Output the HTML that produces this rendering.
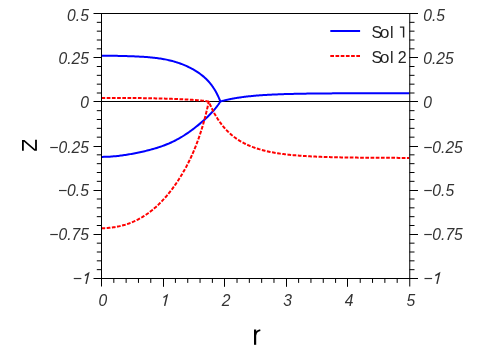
<!DOCTYPE html>
<html><head><meta charset="utf-8"><title>chart</title>
<style>html,body{margin:0;padding:0;background:#fff;}body{width:498px;height:362px;position:relative;overflow:hidden;font-family:"Liberation Sans",sans-serif;}</style></head>
<body>
<svg width="498" height="362" viewBox="0 0 498 362" style="position:absolute;left:0;top:0;will-change:transform">
<rect width="498" height="362" fill="#fff"/>
<path d="M93.5,101.5 H418.0" stroke="#000" stroke-width="1" fill="none"/>
<clipPath id="c"><rect x="101.5" y="13.5" width="308.0" height="265.0"/></clipPath>
<g clip-path="url(#c)" fill="none" stroke-linejoin="round">
<path d="M101.50,55.70 L102.70,55.70 L103.90,55.70 L105.10,55.70 L106.30,55.71 L107.51,55.72 L108.71,55.73 L109.91,55.74 L111.11,55.76 L112.31,55.78 L113.51,55.79 L114.71,55.82 L115.91,55.84 L117.11,55.86 L118.31,55.89 L119.52,55.91 L120.72,55.94 L121.92,55.97 L123.12,56.00 L124.32,56.04 L125.52,56.07 L126.72,56.11 L127.92,56.15 L129.12,56.19 L130.32,56.23 L131.53,56.27 L132.73,56.32 L133.93,56.37 L135.13,56.42 L136.33,56.47 L137.53,56.53 L138.73,56.59 L139.93,56.65 L141.13,56.72 L142.33,56.79 L143.54,56.86 L144.74,56.94 L145.94,57.02 L147.14,57.11 L148.34,57.20 L149.54,57.30 L150.74,57.41 L151.94,57.52 L153.14,57.65 L154.34,57.78 L155.55,57.91 L156.75,58.06 L157.95,58.22 L159.15,58.39 L160.35,58.56 L161.55,58.75 L162.75,58.95 L163.95,59.17 L165.15,59.39 L166.35,59.63 L167.56,59.89 L168.76,60.16 L169.96,60.44 L171.16,60.74 L172.36,61.05 L173.56,61.38 L174.76,61.73 L175.96,62.09 L177.16,62.47 L178.36,62.87 L179.57,63.29 L180.77,63.73 L181.97,64.18 L183.17,64.65 L184.37,65.15 L185.57,65.66 L186.77,66.20 L187.97,66.75 L189.17,67.33 L190.37,67.94 L191.58,68.57 L192.78,69.22 L193.98,69.90 L195.18,70.61 L196.38,71.35 L197.58,72.13 L198.78,72.94 L199.98,73.79 L201.18,74.68 L202.38,75.63 L203.59,76.62 L204.79,77.68 L205.99,78.80 L207.19,80.00 L208.39,81.28 L209.59,82.65 L210.79,84.12 L211.99,85.71 L213.19,87.43 L214.39,89.29 L215.60,91.32 L216.80,93.53 L218.00,95.95 L219.20,98.60 L220.40,101.50" stroke="#0000ff" stroke-width="2"/>
<path d="M101.50,156.89 L102.70,156.89 L103.90,156.87 L105.10,156.85 L106.30,156.81 L107.51,156.76 L108.71,156.70 L109.91,156.64 L111.11,156.56 L112.31,156.47 L113.51,156.37 L114.71,156.27 L115.91,156.15 L117.11,156.03 L118.31,155.89 L119.52,155.75 L120.72,155.60 L121.92,155.44 L123.12,155.28 L124.32,155.10 L125.52,154.92 L126.72,154.73 L127.92,154.54 L129.12,154.34 L130.32,154.13 L131.53,153.92 L132.73,153.70 L133.93,153.47 L135.13,153.24 L136.33,153.00 L137.53,152.76 L138.73,152.51 L139.93,152.25 L141.13,151.99 L142.33,151.72 L143.54,151.45 L144.74,151.17 L145.94,150.88 L147.14,150.58 L148.34,150.28 L149.54,149.97 L150.74,149.65 L151.94,149.33 L153.14,148.99 L154.34,148.65 L155.55,148.29 L156.75,147.93 L157.95,147.55 L159.15,147.16 L160.35,146.76 L161.55,146.34 L162.75,145.92 L163.95,145.47 L165.15,145.02 L166.35,144.54 L167.56,144.05 L168.76,143.55 L169.96,143.02 L171.16,142.48 L172.36,141.92 L173.56,141.34 L174.76,140.75 L175.96,140.13 L177.16,139.49 L178.36,138.83 L179.57,138.16 L180.77,137.46 L181.97,136.74 L183.17,136.00 L184.37,135.24 L185.57,134.46 L186.77,133.66 L187.97,132.84 L189.17,132.00 L190.37,131.15 L191.58,130.27 L192.78,129.37 L193.98,128.46 L195.18,127.52 L196.38,126.57 L197.58,125.60 L198.78,124.62 L199.98,123.61 L201.18,122.59 L202.38,121.54 L203.59,120.48 L204.79,119.39 L205.99,118.29 L207.19,117.15 L208.39,115.99 L209.59,114.79 L210.79,113.55 L211.99,112.28 L213.19,110.96 L214.39,109.58 L215.60,108.13 L216.80,106.62 L218.00,105.01 L219.20,103.31 L220.40,101.50 L220.41,101.50 L220.45,101.49 L220.50,101.47 L220.57,101.45 L220.65,101.43 L220.75,101.40 L220.86,101.37 L220.98,101.34 L221.12,101.30 L221.27,101.26 L221.43,101.21 L221.61,101.16 L221.79,101.11 L221.99,101.06 L222.20,101.00 L222.42,100.94 L222.66,100.88 L222.90,100.82 L223.16,100.75 L223.42,100.68 L223.70,100.61 L223.99,100.54 L224.29,100.46 L224.60,100.39 L224.92,100.31 L225.25,100.23 L225.59,100.14 L225.94,100.06 L226.30,99.98 L226.67,99.89 L227.06,99.80 L227.45,99.72 L227.85,99.63 L228.26,99.54 L228.68,99.45 L229.11,99.35 L229.55,99.26 L230.00,99.17 L230.46,99.07 L230.93,98.98 L231.41,98.89 L231.90,98.79 L232.39,98.70 L232.90,98.60 L233.42,98.51 L233.94,98.41 L234.48,98.32 L235.02,98.22 L235.57,98.13 L236.14,98.03 L236.71,97.94 L237.29,97.85 L237.88,97.75 L238.47,97.66 L239.08,97.57 L239.70,97.48 L240.32,97.39 L240.96,97.30 L241.60,97.21 L242.25,97.12 L242.91,97.03 L243.58,96.94 L244.25,96.86 L244.94,96.77 L245.63,96.69 L246.34,96.60 L247.05,96.52 L247.77,96.44 L248.50,96.36 L249.24,96.28 L249.98,96.20 L250.74,96.13 L251.50,96.05 L252.27,95.98 L253.05,95.90 L253.84,95.83 L254.63,95.76 L255.44,95.69 L256.25,95.62 L257.07,95.55 L257.90,95.49 L258.74,95.42 L259.58,95.36 L260.44,95.30 L261.30,95.24 L262.17,95.18 L263.05,95.12 L263.93,95.06 L264.83,95.00 L265.73,94.95 L266.64,94.89 L267.56,94.84 L268.49,94.79 L269.42,94.74 L270.36,94.69 L271.31,94.64 L272.27,94.60 L273.24,94.55 L274.21,94.51 L275.20,94.46 L276.19,94.42 L277.19,94.38 L278.19,94.34 L279.21,94.30 L280.23,94.26 L281.26,94.22 L282.29,94.19 L283.34,94.15 L284.39,94.12 L285.45,94.09 L286.52,94.05 L287.60,94.02 L288.68,93.99 L289.77,93.96 L290.87,93.93 L291.98,93.91 L293.09,93.88 L294.21,93.85 L295.34,93.83 L296.48,93.81 L297.63,93.78 L298.78,93.76 L299.94,93.74 L301.11,93.72 L302.28,93.70 L303.47,93.68 L304.66,93.66 L305.85,93.64 L307.06,93.62 L308.27,93.60 L309.49,93.59 L310.72,93.57 L311.96,93.55 L313.20,93.54 L314.45,93.52 L315.71,93.51 L316.97,93.50 L318.24,93.48 L319.52,93.47 L320.81,93.46 L322.11,93.45 L323.41,93.44 L324.72,93.43 L326.04,93.42 L327.36,93.41 L328.69,93.40 L330.03,93.39 L331.38,93.38 L332.73,93.37 L334.09,93.36 L335.46,93.36 L336.83,93.35 L338.21,93.34 L339.60,93.33 L341.00,93.33 L342.41,93.32 L343.82,93.32 L345.24,93.31 L346.66,93.30 L348.09,93.30 L349.53,93.29 L350.98,93.29 L352.44,93.28 L353.90,93.28 L355.37,93.28 L356.84,93.27 L358.33,93.27 L359.82,93.26 L361.31,93.26 L362.82,93.26 L364.33,93.25 L365.85,93.25 L367.37,93.25 L368.91,93.25 L370.45,93.24 L371.99,93.24 L373.55,93.24 L375.11,93.24 L376.68,93.23 L378.25,93.23 L379.83,93.23 L381.42,93.23 L383.02,93.23 L384.62,93.23 L386.23,93.22 L387.85,93.22 L389.47,93.22 L391.10,93.22 L392.74,93.22 L394.39,93.22 L396.04,93.22 L397.70,93.21 L399.36,93.21 L401.03,93.21 L402.71,93.21 L404.40,93.21 L406.09,93.21 L407.79,93.21 L409.50,93.21" stroke="#0000ff" stroke-width="2"/>
<path d="M101.50,97.90 L102.58,97.90 L103.67,97.90 L104.75,97.90 L105.84,97.90 L106.92,97.90 L108.00,97.91 L109.09,97.91 L110.17,97.91 L111.25,97.91 L112.34,97.91 L113.42,97.92 L114.51,97.92 L115.59,97.92 L116.67,97.93 L117.76,97.93 L118.84,97.93 L119.93,97.94 L121.01,97.94 L122.09,97.95 L123.18,97.96 L124.26,97.96 L125.34,97.97 L126.43,97.97 L127.51,97.98 L128.60,97.99 L129.68,98.00 L130.76,98.01 L131.85,98.02 L132.93,98.02 L134.02,98.04 L135.10,98.05 L136.18,98.06 L137.27,98.07 L138.35,98.08 L139.43,98.09 L140.52,98.11 L141.60,98.12 L142.69,98.14 L143.77,98.15 L144.85,98.17 L145.94,98.19 L147.02,98.20 L148.11,98.22 L149.19,98.24 L150.27,98.26 L151.36,98.28 L152.44,98.31 L153.52,98.33 L154.61,98.35 L155.69,98.38 L156.78,98.40 L157.86,98.43 L158.94,98.46 L160.03,98.48 L161.11,98.51 L162.19,98.54 L163.28,98.58 L164.36,98.61 L165.45,98.64 L166.53,98.68 L167.61,98.71 L168.70,98.75 L169.78,98.79 L170.87,98.83 L171.95,98.87 L173.03,98.91 L174.12,98.95 L175.20,98.99 L176.28,99.04 L177.37,99.08 L178.45,99.13 L179.54,99.18 L180.62,99.22 L181.70,99.27 L182.79,99.32 L183.87,99.38 L184.96,99.43 L186.04,99.48 L187.12,99.54 L188.21,99.60 L189.29,99.66 L190.37,99.72 L191.46,99.78 L192.54,99.85 L193.63,99.92 L194.71,99.99 L195.79,100.06 L196.88,100.14 L197.96,100.22 L199.05,100.31 L200.13,100.41 L201.21,100.51 L202.30,100.63 L203.38,100.75 L204.46,100.89 L205.55,101.04 L206.63,101.20 L207.72,101.39 L208.80,101.60" stroke="#ff0000" stroke-width="2" stroke-dasharray="3.7 1.5"/>
<path d="M101.50,228.20 L102.58,228.19 L103.67,228.17 L104.75,228.13 L105.84,228.08 L106.92,228.02 L108.00,227.94 L109.09,227.85 L110.17,227.75 L111.25,227.62 L112.34,227.49 L113.42,227.34 L114.51,227.18 L115.59,227.00 L116.67,226.80 L117.76,226.59 L118.84,226.36 L119.93,226.12 L121.01,225.86 L122.09,225.59 L123.18,225.30 L124.26,224.99 L125.34,224.67 L126.43,224.32 L127.51,223.96 L128.60,223.58 L129.68,223.19 L130.76,222.77 L131.85,222.34 L132.93,221.88 L134.02,221.41 L135.10,220.91 L136.18,220.40 L137.27,219.86 L138.35,219.30 L139.43,218.72 L140.52,218.12 L141.60,217.50 L142.69,216.85 L143.77,216.18 L144.85,215.49 L145.94,214.77 L147.02,214.03 L148.11,213.26 L149.19,212.46 L150.27,211.65 L151.36,210.80 L152.44,209.93 L153.52,209.03 L154.61,208.11 L155.69,207.16 L156.78,206.18 L157.86,205.17 L158.94,204.13 L160.03,203.06 L161.11,201.97 L162.19,200.84 L163.28,199.68 L164.36,198.50 L165.45,197.28 L166.53,196.03 L167.61,194.74 L168.70,193.43 L169.78,192.08 L170.87,190.70 L171.95,189.28 L173.03,187.83 L174.12,186.34 L175.20,184.81 L176.28,183.24 L177.37,181.64 L178.45,179.99 L179.54,178.30 L180.62,176.57 L181.70,174.78 L182.79,172.96 L183.87,171.08 L184.96,169.14 L186.04,167.15 L187.12,165.10 L188.21,162.99 L189.29,160.81 L190.37,158.56 L191.46,156.23 L192.54,153.82 L193.63,151.32 L194.71,148.72 L195.79,146.02 L196.88,143.21 L197.96,140.28 L199.05,137.22 L200.13,134.02 L201.21,130.66 L202.30,127.14 L203.38,123.43 L204.46,119.53 L205.55,115.42 L206.63,111.07 L207.72,106.47 L208.80,101.60" stroke="#ff0000" stroke-width="2" stroke-dasharray="3.7 1.5"/>
<path d="M409.50,157.90 L407.69,157.90 L405.88,157.89 L404.09,157.89 L402.30,157.89 L400.51,157.88 L398.74,157.88 L396.97,157.87 L395.21,157.87 L393.46,157.86 L391.71,157.85 L389.97,157.85 L388.24,157.84 L386.52,157.83 L384.80,157.83 L383.09,157.82 L381.39,157.81 L379.70,157.80 L378.01,157.79 L376.33,157.78 L374.66,157.77 L373.00,157.76 L371.34,157.75 L369.69,157.74 L368.05,157.73 L366.42,157.71 L364.79,157.70 L363.17,157.68 L361.56,157.67 L359.95,157.65 L358.36,157.64 L356.77,157.62 L355.19,157.60 L353.61,157.58 L352.05,157.56 L350.49,157.54 L348.94,157.52 L347.39,157.49 L345.86,157.47 L344.33,157.44 L342.81,157.42 L341.29,157.39 L339.79,157.36 L338.29,157.33 L336.80,157.30 L335.32,157.26 L333.84,157.23 L332.37,157.19 L330.92,157.16 L329.46,157.12 L328.02,157.07 L326.58,157.03 L325.15,156.99 L323.73,156.94 L322.32,156.89 L320.92,156.84 L319.52,156.79 L318.13,156.73 L316.75,156.67 L315.37,156.61 L314.01,156.55 L312.65,156.49 L311.30,156.42 L309.95,156.35 L308.62,156.28 L307.29,156.20 L305.97,156.12 L304.66,156.04 L303.36,155.95 L302.06,155.87 L300.78,155.77 L299.50,155.68 L298.22,155.58 L296.96,155.48 L295.71,155.37 L294.46,155.27 L293.22,155.15 L291.99,155.03 L290.76,154.91 L289.55,154.79 L288.34,154.66 L287.14,154.52 L285.95,154.38 L284.77,154.24 L283.59,154.09 L282.43,153.94 L281.27,153.78 L280.12,153.62 L278.98,153.45 L277.84,153.28 L276.72,153.10 L275.60,152.91 L274.49,152.72 L273.39,152.52 L272.30,152.32 L271.21,152.11 L270.14,151.90 L269.07,151.67 L268.01,151.45 L266.96,151.21 L265.92,150.97 L264.88,150.72 L263.86,150.47 L262.84,150.21 L261.83,149.94 L260.83,149.66 L259.84,149.38 L258.85,149.09 L257.88,148.79 L256.91,148.48 L255.95,148.17 L255.00,147.84 L254.06,147.51 L253.13,147.18 L252.21,146.83 L251.29,146.47 L250.39,146.11 L249.49,145.74 L248.60,145.36 L247.72,144.97 L246.85,144.57 L245.99,144.16 L245.13,143.74 L244.29,143.32 L243.45,142.88 L242.62,142.44 L241.81,141.99 L241.00,141.52 L240.20,141.05 L239.40,140.57 L238.62,140.08 L237.85,139.58 L237.08,139.08 L236.33,138.56 L235.58,138.03 L234.85,137.50 L234.12,136.95 L233.40,136.40 L232.69,135.83 L231.99,135.26 L231.30,134.68 L230.62,134.09 L229.94,133.49 L229.28,132.89 L228.63,132.27 L227.98,131.65 L227.35,131.02 L226.72,130.39 L226.11,129.74 L225.50,129.09 L224.91,128.43 L224.32,127.77 L223.74,127.09 L223.17,126.42 L222.62,125.74 L222.07,125.05 L221.53,124.36 L221.00,123.67 L220.48,122.97 L219.98,122.27 L219.48,121.56 L218.99,120.86 L218.51,120.15 L218.05,119.45 L217.59,118.74 L217.14,118.04 L216.71,117.34 L216.28,116.63 L215.86,115.94 L215.46,115.25 L215.07,114.56 L214.68,113.88 L214.31,113.20 L213.95,112.53 L213.60,111.87 L213.26,111.23 L212.93,110.59 L212.61,109.96 L212.30,109.35 L212.01,108.75 L211.73,108.16 L211.46,107.60 L211.20,107.05 L210.95,106.51 L210.71,106.00 L210.49,105.51 L210.28,105.04 L210.08,104.59 L209.89,104.17 L209.72,103.78 L209.56,103.41 L209.42,103.07 L209.29,102.76 L209.17,102.48 L209.06,102.24 L208.98,102.03 L208.91,101.85 L208.85,101.72 L208.81,101.64 L208.80,101.60" stroke="#ff0000" stroke-width="2" stroke-dasharray="3.7 1.5" stroke-dashoffset="1.15"/>
</g>
<path d="M93.5,13.5 H418.0 M101.5,13.5 V286.5 M409.75,13.5 V286.5 M93.5,278.5 H418.0 M96.8,22.33 H101.5 M409.5,22.33 H414.5 M96.8,31.17 H101.5 M409.5,31.17 H414.5 M96.8,40.00 H101.5 M409.5,40.00 H414.5 M96.8,48.83 H101.5 M409.5,48.83 H414.5 M93.5,57.50 H101.5 M409.5,57.50 H418.0 M96.8,66.50 H101.5 M409.5,66.50 H414.5 M96.8,75.33 H101.5 M409.5,75.33 H414.5 M96.8,84.17 H101.5 M409.5,84.17 H414.5 M96.8,93.00 H101.5 M409.5,93.00 H414.5 M96.8,110.67 H101.5 M409.5,110.67 H414.5 M96.8,119.50 H101.5 M409.5,119.50 H414.5 M96.8,128.33 H101.5 M409.5,128.33 H414.5 M96.8,137.17 H101.5 M409.5,137.17 H414.5 M93.5,146.50 H101.5 M409.5,146.50 H418.0 M96.8,154.83 H101.5 M409.5,154.83 H414.5 M96.8,163.67 H101.5 M409.5,163.67 H414.5 M96.8,172.50 H101.5 M409.5,172.50 H414.5 M96.8,181.33 H101.5 M409.5,181.33 H414.5 M93.5,190.50 H101.5 M409.5,190.50 H418.0 M96.8,199.00 H101.5 M409.5,199.00 H414.5 M96.8,207.83 H101.5 M409.5,207.83 H414.5 M96.8,216.67 H101.5 M409.5,216.67 H414.5 M96.8,225.50 H101.5 M409.5,225.50 H414.5 M93.5,234.50 H101.5 M409.5,234.50 H418.0 M96.8,243.17 H101.5 M409.5,243.17 H414.5 M96.8,252.00 H101.5 M409.5,252.00 H414.5 M96.8,260.83 H101.5 M409.5,260.83 H414.5 M96.8,269.67 H101.5 M409.5,269.67 H414.5 M113.82,278.5 V282.9 M126.14,278.5 V282.9 M138.46,278.5 V282.9 M150.78,278.5 V282.9 M163.50,278.5 V286.8 M175.42,278.5 V282.9 M187.74,278.5 V282.9 M200.06,278.5 V282.9 M212.38,278.5 V282.9 M224.50,278.5 V286.8 M237.02,278.5 V282.9 M249.34,278.5 V282.9 M261.66,278.5 V282.9 M273.98,278.5 V282.9 M286.50,278.5 V286.8 M298.62,278.5 V282.9 M310.94,278.5 V282.9 M323.26,278.5 V282.9 M335.58,278.5 V282.9 M347.50,278.5 V286.8 M360.22,278.5 V282.9 M372.54,278.5 V282.9 M384.86,278.5 V282.9 M397.18,278.5 V282.9" stroke="#000" stroke-width="1" fill="none"/>
<path d="M330.3,31 H360.1" stroke="#0000ff" stroke-width="2" fill="none"/>
<path d="M330.3,56 H360.1" stroke="#ff0000" stroke-width="2" stroke-dasharray="3.7 1.5" fill="none"/>
<g font-family="Liberation Sans, sans-serif" font-size="16" fill="#222">
<text y="37.5"><tspan x="371.4">S</tspan><tspan x="379.7" font-size="17.4">o</tspan><tspan x="389.9">l</tspan></text>
<text y="62.6"><tspan x="371.4">S</tspan><tspan x="379.7" font-size="17.4">o</tspan><tspan x="389.9">l</tspan><tspan x="397.8">2</tspan></text>
<path d="M399.9,26.4 H404.3 V37.5 H402.9 V27.8 H399.9 Z" fill="#222"/>
</g>
<g font-family="Liberation Sans, sans-serif" font-size="16.5" font-style="italic" fill="#333">
<text transform="translate(88.9,20.60) scale(0.95,1)" text-anchor="end">0.5</text>
<text transform="translate(423.2,20.60) scale(0.95,1)">0.5</text>
<text transform="translate(88.9,63.50) scale(0.95,1)" text-anchor="end">0.25</text>
<text transform="translate(423.2,63.50) scale(0.95,1)">0.25</text>
<text transform="translate(88.9,108.00) scale(0.95,1)" text-anchor="end">0</text>
<text transform="translate(423.2,108.00) scale(0.95,1)">0</text>
<text transform="translate(88.9,153.30) scale(0.95,1)" text-anchor="end">−<tspan dx="0.00">0.25</tspan></text>
<text transform="translate(423.2,153.30) scale(0.95,1)">−<tspan dx="0.00">0.25</tspan></text>
<text transform="translate(88.9,196.40) scale(0.95,1)" text-anchor="end">−<tspan dx="0.00">0.5</tspan></text>
<text transform="translate(423.2,196.40) scale(0.95,1)">−<tspan dx="0.00">0.5</tspan></text>
<text transform="translate(88.9,240.40) scale(0.95,1)" text-anchor="end">−<tspan dx="0.00">0.75</tspan></text>
<text transform="translate(423.2,240.40) scale(0.95,1)">−<tspan dx="0.00">0.75</tspan></text>
<text transform="translate(72.8,284.20) scale(0.95,1)">−</text>
<path d="M84.90,275.60 L88.50,273.30 L86.05,283.90" stroke="#333" stroke-width="1.45" fill="none" stroke-linejoin="miter" stroke-miterlimit="3"/>
<text transform="translate(423.4,284.20) scale(0.95,1)">−</text>
<path d="M435.30,275.60 L439.40,273.30 L436.95,283.90" stroke="#333" stroke-width="1.45" fill="none" stroke-linejoin="miter" stroke-miterlimit="3"/>
<text transform="translate(102.80,306.4) scale(0.95,1)" text-anchor="middle">0</text>
<path d="M163.40,297.50 L167.10,295.20 L164.65,305.80" stroke="#333" stroke-width="1.45" fill="none" stroke-linejoin="miter" stroke-miterlimit="3"/>
<text transform="translate(226.00,306.4) scale(0.95,1)" text-anchor="middle">2</text>
<text transform="translate(287.60,306.4) scale(0.95,1)" text-anchor="middle">3</text>
<text transform="translate(349.20,306.4) scale(0.95,1)" text-anchor="middle">4</text>
<text transform="translate(410.80,306.4) scale(0.95,1)" text-anchor="middle">5</text>
</g>
<path d="M22.0,140 H23.8 V150.8 H22.0 Z M35.1,139.7 H36.9 V150.8 H35.1 Z M22.0,140 H24.5 L36.9,150.8 H34.4 Z" fill="#000"/>
<path d="M255.1,329.5 V344.8" stroke="#000" stroke-width="2.2" fill="none"/>
<path d="M255.3,335 Q256.2,331 260.3,330.2" stroke="#000" stroke-width="1.8" fill="none"/>
</svg>
</body></html>
